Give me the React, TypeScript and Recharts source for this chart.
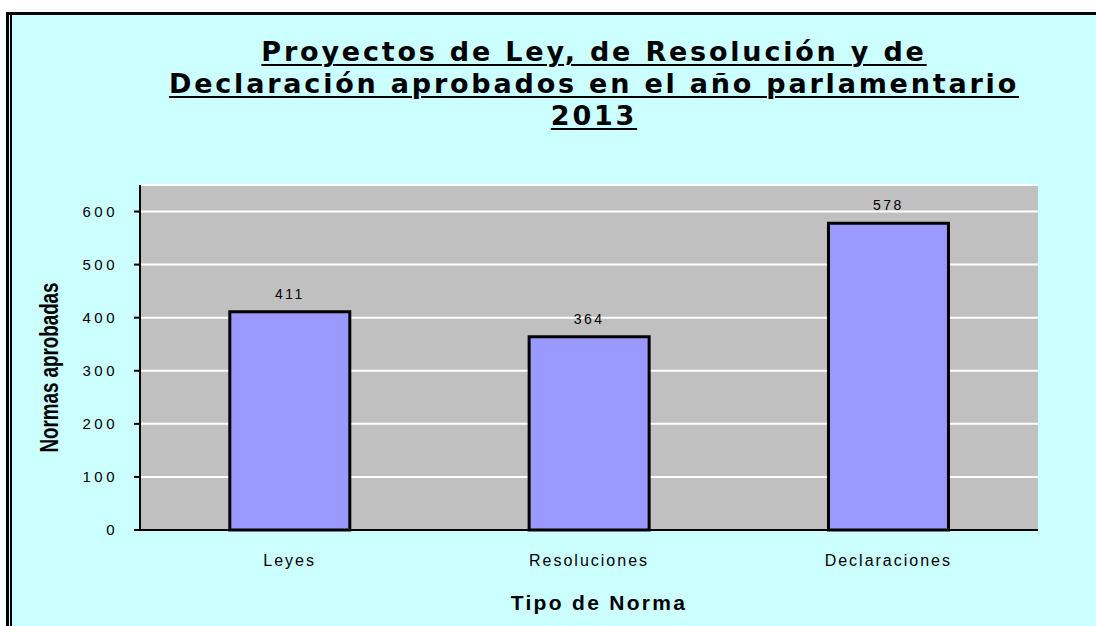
import React from "react";
import {
  BarChart,
  Bar,
  XAxis,
  YAxis,
  CartesianGrid,
  LabelList,
} from "recharts";

const categories = ["Leyes", "Resoluciones", "Declaraciones"];
const approved = [411, 364, 578];
const yTicks = [0, 100, 200, 300, 400, 500, 600];
const edgeTicks = [0, 1, 2, 3];
const titleLines = [
  "Proyectos de Ley, de Resolución y de",
  "Declaración aprobados en el año parlamentario",
  "2013",
];

const data = categories.map((tipo, i) => ({ tipo, normas: approved[i] }));

const ARIAL = "'Liberation Sans', Arial, sans-serif";

const YLabel = (props: any) => {
  const { viewBox } = props;
  const cx = viewBox.x + 49;
  const cy = viewBox.y + viewBox.height / 2 + 10;
  return (
    <text
      x={cx}
      y={cy}
      transform={`rotate(-90, ${cx}, ${cy})`}
      textAnchor="middle"
      dominantBaseline="central"
      fontFamily={ARIAL}
      fontWeight="bold"
      fontSize={26}
      textLength={170}
      lengthAdjust="spacingAndGlyphs"
      fill="#000"
    >
      Normas aprobadas
    </text>
  );
};

export default function App() {
  return (
    <div
      style={{
        position: "absolute",
        left: 0,
        top: 0,
        width: 1096,
        height: 626,
        overflow: "hidden",
        background: "#fff",
      }}
    >
      <style>{"html,body{margin:0;overflow:hidden}"}</style>
      {/* frame */}
      <div
        style={{
          position: "absolute",
          left: 6,
          top: 12,
          width: 1087,
          height: 611,
          borderTop: "3px solid #000",
          borderLeft: "3px solid #000",
          background: "#CCFFFF",
        }}
      >
        <div
          style={{
            position: "absolute",
            left: 1,
            top: 0,
            width: 0,
            height: 611,
            borderLeft: "2px solid #000",
          }}
        />
      </div>

      {/* title */}
      <div
        style={{
          position: "absolute",
          left: 0,
          width: 1188,
          top: 36,
          textAlign: "center",
          fontFamily: "'DejaVu Sans', Verdana, sans-serif",
          fontWeight: "bold",
          fontSize: 27,
          letterSpacing: 2.8,
          lineHeight: "32px",
          color: "#000",
          textDecoration: "underline",
          textUnderlineOffset: 3,
          textDecorationThickness: 2,
        }}
      >
        {titleLines.map((t) => (
          <div key={t}>{t}</div>
        ))}
      </div>

      <BarChart
        width={1096}
        height={626}
        data={data}
        margin={{ top: 185, right: 58, bottom: 0, left: 0 }}
        barCategoryGap="30%"
        style={{ position: "absolute", left: 0, top: 0 }}
      >
        <CartesianGrid
          xAxisId="main"
          vertical={false}
          stroke="#fff"
          strokeWidth={2}
          fill="#C0C0C0"
          fillOpacity={1}
        />
        <XAxis
          xAxisId="edges"
          type="number"
          domain={[0, 3]}
          ticks={edgeTicks}
          tick={false}
          tickLine={{ stroke: "#000", strokeWidth: 2 }}
          tickSize={5}
          axisLine={false}
          height={0}
        />
        <XAxis
          xAxisId="main"
          dataKey="tipo"
          tickLine={false}
          axisLine={{ stroke: "#000", strokeWidth: 2 }}
          tickMargin={19}
          height={96}
          tick={{ fontSize: 16, fill: "#000", fontFamily: ARIAL, letterSpacing: 2 }}
          label={{
            value: "Tipo de Norma",
            position: "insideBottom",
            offset: 16,
            dx: 10,
            fontSize: 21,
            fontWeight: "bold",
            fontFamily: ARIAL,
            fill: "#000",
            letterSpacing: 2.3,
          }}
        />
        <XAxis
          xAxisId="top"
          orientation="top"
          height={0}
          tick={false}
          tickLine={false}
          axisLine={{ stroke: "#808080", strokeWidth: 3 }}
        />
        <YAxis
          domain={[0, 650]}
          ticks={yTicks}
          width={140}
          tickSize={6}
          tickMargin={16}
          tickLine={{ stroke: "#000", strokeWidth: 2 }}
          axisLine={{ stroke: "#000", strokeWidth: 2 }}
          tick={{ fontSize: 15, fill: "#000", fontFamily: ARIAL, letterSpacing: 3.5 }}
          label={<YLabel />}
        />
        <YAxis
          yAxisId="right"
          orientation="right"
          domain={[0, 650]}
          width={0}
          tick={false}
          tickLine={false}
          axisLine={{ stroke: "#808080", strokeWidth: 3 }}
        />
        <Bar
          xAxisId="main"
          dataKey="normas"
          fill="#9999FF"
          stroke="#000"
          strokeWidth={3}
          isAnimationActive={false}
        >
          <LabelList
            dataKey="normas"
            position="top"
            offset={13}
            fill="#000"
            fontSize={14}
            fontFamily={ARIAL}
            letterSpacing={2.5}
          />
        </Bar>
      </BarChart>
    </div>
  );
}
